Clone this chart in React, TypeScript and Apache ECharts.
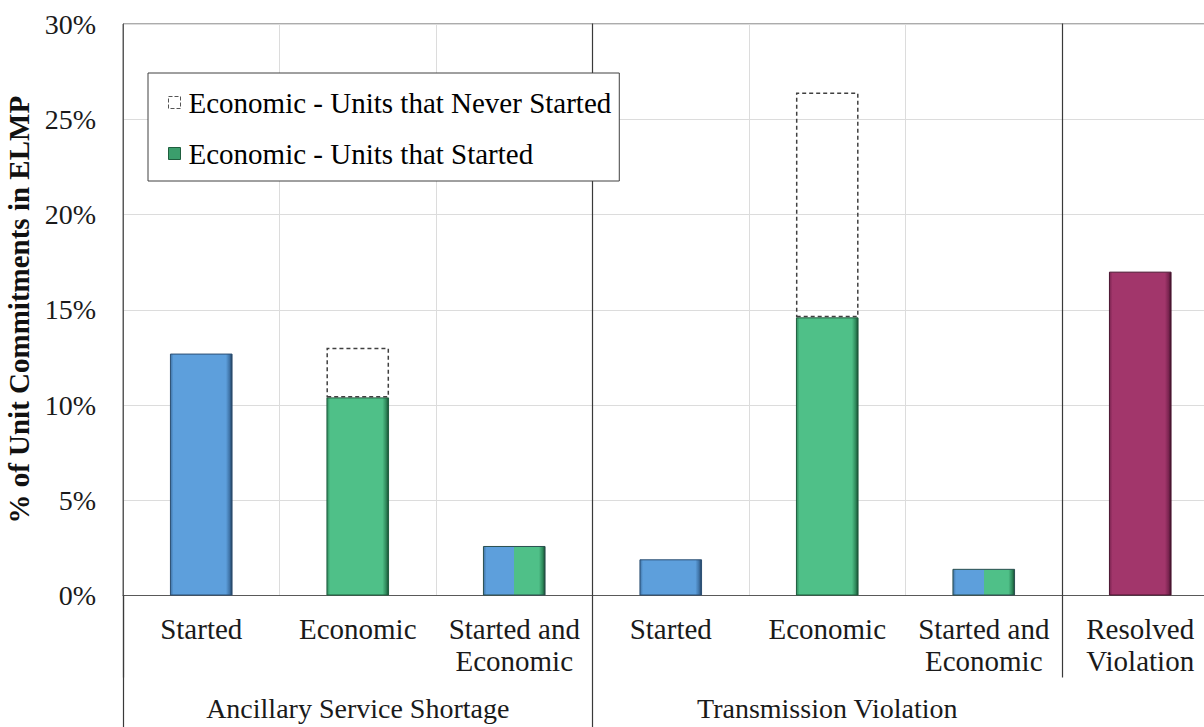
import React, { useEffect, useRef } from 'react';
import * as echarts from 'echarts';

const categories = [
  'Started',
  'Economic',
  'Started and\nEconomic',
  'Started',
  'Economic',
  'Started and\nEconomic',
  'Resolved\nViolation',
];
const groupLabels = ['', 'Ancillary Service Shortage', '', '', 'Transmission Violation', '', ''];
const barKinds = ['started', 'economic', 'both', 'started', 'economic', 'both', 'resolved'];
const unitsStarted = [12.7, 10.4, 2.6, 1.9, 14.6, 1.4, 17.0];
const unitsNeverStarted: (number | string)[] = ['-', 2.6, '-', '-', 11.8, '-', '-'];
const yTicks = { min: 0, max: 30, interval: 5 };

const SERIES_STARTED = 'Economic - Units that Started';
const SERIES_NEVER = 'Economic - Units that Never Started';

const FONT = 'Liberation Serif, Times New Roman, serif';

const palette: Record<string, { base: string; dark: string; darker: string }> = {
  blue: { base: '#5d9fdc', dark: '#3f73a6', darker: '#223d5a' },
  green: { base: '#4fc088', dark: '#2f8a5c', darker: '#174a31' },
  magenta: { base: '#a2366b', dark: '#7a2450', darker: '#3e1027' },
};

function bevel(p: { base: string; dark: string; darker: string }) {
  return new echarts.graphic.LinearGradient(0, 0, 1, 0, [
    { offset: 0, color: p.dark },
    { offset: 0.05, color: p.base },
    { offset: 0.9, color: p.base },
    { offset: 0.96, color: p.dark },
    { offset: 1, color: p.darker },
  ]);
}

function twoTone() {
  const a = palette.blue;
  const b = palette.green;
  return new echarts.graphic.LinearGradient(0, 0, 1, 0, [
    { offset: 0, color: a.dark },
    { offset: 0.05, color: a.base },
    { offset: 0.5, color: a.base },
    { offset: 0.5, color: b.base },
    { offset: 0.9, color: b.base },
    { offset: 0.96, color: b.dark },
    { offset: 1, color: b.darker },
  ]);
}

function styleFor(kind: string) {
  if (kind === 'started') return { color: bevel(palette.blue), borderColor: '#2c4f73' };
  if (kind === 'economic') return { color: bevel(palette.green), borderColor: '#1f5e3e' };
  if (kind === 'resolved') return { color: bevel(palette.magenta), borderColor: '#4a1430' };
  return { color: twoTone(), borderColor: '#2a4f4f' };
}

export default function App() {
  const ref = useRef<HTMLDivElement>(null);

  useEffect(() => {
    if (!ref.current) return;
    const chart = echarts.init(ref.current, null, { renderer: 'svg' });

    const labelRich = {
      t: { fontFamily: FONT, fontSize: 29, color: '#1a1a1a', lineHeight: 32 },
    };

    const option: any = {
      animation: false,
      backgroundColor: '#ffffff',
      textStyle: { fontFamily: FONT },
      grid: {
        left: 123,
        top: 24,
        right: 3.5,
        bottom: 131.5,
        containLabel: false,
        outerBoundsMode: 'none',
        show: true,
        borderColor: '#595959',
        borderWidth: 1,
        backgroundColor: 'transparent',
      },
      legend: {
        left: 148,
        top: 73,
        orient: 'vertical',
        icon: 'rect',
        itemWidth: 12,
        itemHeight: 12,
        itemGap: 22,
        padding: [15, 8, 13, 20],
        backgroundColor: '#ffffff',
        borderColor: '#404040',
        borderWidth: 1,
        formatter: (name: string) => `{t|${name}}`,
        textStyle: {
          fontFamily: FONT,
          fontSize: 29,
          color: '#000',
          rich: { t: { fontFamily: FONT, fontSize: 29, color: '#000', lineHeight: 30, padding: [0, 0, 0, 3] } },
        },
        data: [
          {
            name: SERIES_NEVER,
            itemStyle: { color: 'rgba(255,255,255,0)', borderColor: '#555', borderWidth: 1, borderType: 'dashed' },
          },
          {
            name: SERIES_STARTED,
            itemStyle: { color: '#3b9e6c', borderColor: '#1f5e3e', borderWidth: 1 },
          },
        ],
      },
      xAxis: [
        {
          type: 'category',
          data: categories,
          position: 'bottom',
          axisLine: { show: true, lineStyle: { color: '#595959', width: 1 } },
          axisTick: {
            show: true,
            inside: true,
            length: 572,
            alignWithLabel: false,
            interval: (i: number) => i === 3 || i === 6,
            lineStyle: { color: '#3a3a3a', width: 1.2 },
          },
          splitLine: { show: true, interval: 0, lineStyle: { color: '#dcdcdc', width: 1 } },
          axisLabel: {
            interval: 0,
            margin: 17,
            fontFamily: FONT,
            fontSize: 29,
            formatter: (v: string) => v.split('\n').map((s) => `{t|${s}}`).join('\n'),
            rich: labelRich,
          },
        },
        {
          type: 'category',
          data: groupLabels,
          position: 'bottom',
          axisLine: { show: false },
          axisTick: {
            show: true,
            inside: false,
            length: 132,
            alignWithLabel: false,
            interval: (i: number) => i === 0 || i === 3,
            lineStyle: { color: '#3a3a3a', width: 1.2 },
          },
          splitLine: { show: false },
          axisLabel: {
            interval: 0,
            margin: 101,
            fontFamily: FONT,
            fontSize: 28,
            lineHeight: 24,
            color: '#1a1a1a',
          },
        },
        {
          type: 'category',
          data: groupLabels.map(() => ''),
          position: 'bottom',
          axisLine: { show: false },
          axisTick: {
            show: true,
            inside: false,
            length: 82,
            alignWithLabel: false,
            interval: (i: number) => i === 0 || i === 6,
            lineStyle: { color: '#3a3a3a', width: 1.2 },
          },
          splitLine: { show: false },
          axisLabel: { show: false },
        },
      ],
      yAxis: {
        type: 'value',
        min: yTicks.min,
        max: yTicks.max,
        interval: yTicks.interval,
        name: '% of Unit Commitments in ELMP',
        nameLocation: 'middle',
        nameRotate: 90,
        nameGap: 83,
        nameTextStyle: { fontFamily: FONT, fontSize: 29, fontWeight: 'bold', color: '#111' },
        axisLine: { show: true, lineStyle: { color: '#595959', width: 1 } },
        axisTick: { show: false },
        splitLine: { show: true, lineStyle: { color: '#dcdcdc', width: 1 } },
        axisLabel: {
          fontFamily: FONT,
          fontSize: 28,
          color: '#1a1a1a',
          margin: 27,
          formatter: '{value}%',
        },
      },
      series: [
        {
          name: SERIES_STARTED,
          type: 'bar',
          stack: 'total',
          xAxisIndex: 0,
          barWidth: '40%',
          itemStyle: { color: '#3b9e6c', borderWidth: 1 },
          data: unitsStarted.map((v, i) => ({
            value: v,
            itemStyle: { ...styleFor(barKinds[i]), borderWidth: 1 },
          })),
        },
        {
          name: SERIES_NEVER,
          type: 'bar',
          stack: 'total',
          xAxisIndex: 0,
          barWidth: '40%',
          itemStyle: {
            color: 'rgba(255,255,255,0)',
            borderColor: '#404040',
            borderWidth: 1.5,
            borderType: [4, 3],
          },
          data: unitsNeverStarted,
        },
      ],
    };

    chart.setOption(option);
    return () => chart.dispose();
  }, []);

  return (
    <div
      style={{
        position: 'fixed',
        left: 0,
        top: 0,
        width: 1204,
        height: 727,
        overflow: 'hidden',
        background: '#ffffff',
      }}
    >
      <div ref={ref} style={{ width: 1222, height: 727 }} />
    </div>
  );
}
